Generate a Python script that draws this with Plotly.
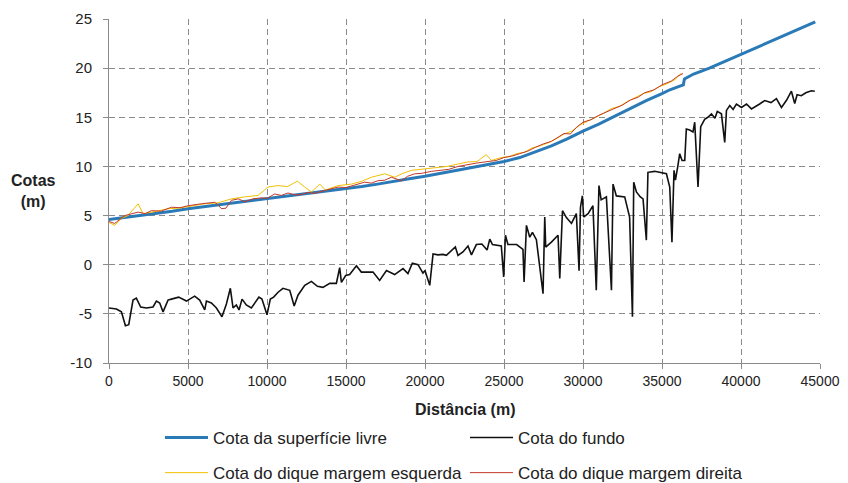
import plotly.graph_objects as go

# ---- Data ----
dist_livre = [0, 1000, 2000, 3000, 4000, 5000, 6000, 7000, 8000, 9000, 10000, 11000, 12000, 13000,
              14000, 15000, 16000, 17000, 18000, 19000, 20000, 21000, 22000, 23000, 24000, 25000,
              26000, 27000, 28000, 29000, 30000, 31000, 32000, 33000, 34000, 35000, 35500, 36000,
              36350, 36420, 37000, 38000, 39000, 40000, 41000, 42000, 43000, 44000, 44700]
cota_livre = [4.6, 4.8, 5.0, 5.2, 5.45, 5.7, 5.9, 6.1, 6.3, 6.5, 6.7, 6.9, 7.1, 7.3,
              7.5, 7.7, 7.95, 8.2, 8.5, 8.75, 9.0, 9.3, 9.6, 9.9, 10.2, 10.5,
              10.9, 11.5, 12.1, 12.8, 13.6, 14.3, 15.1, 15.9, 16.7, 17.4, 17.8, 18.1,
              18.3, 18.9, 19.4, 20.0, 20.7, 21.4, 22.1, 22.8, 23.5, 24.2, 24.7]

dist_fundo = [0, 470, 785, 1040, 1250, 1415, 1520, 1730, 2005, 2365, 2785, 3000, 3210, 3420, 3735,
              3950, 4410, 4900, 5420, 5740, 6060, 6165, 6480, 6800, 7150, 7430, 7680, 7850, 8060,
              8230, 8420, 8690, 9010, 9490, 9680, 10000, 10210, 10420, 10700, 11010, 11440, 11720,
              11960, 12390, 12810, 13190, 13540, 13970, 14390, 14600, 14710, 14980, 15230, 15660,
              15970, 16710, 17130, 17560, 18080, 18610, 18920, 19200, 19560, 19870, 20000, 20300,
              20510, 20820, 21140, 21350, 21670, 21920, 22090, 22400, 22720, 22940, 23250, 23600,
              23930, 24100, 24270, 24830, 24980, 25090, 25250, 25800, 26200, 26270, 26420, 26630,
              26800, 27050, 27470, 27580, 27640, 28000, 28420, 28530, 28700, 28950, 29270, 29580,
              29750, 29840, 29960, 30040, 30320, 30630, 30840, 31010, 31150, 31480, 31800, 31900,
              32110, 32640, 32950, 33130, 33210, 33380, 33630, 33800, 34010, 34110, 34540, 34900,
              35280, 35490, 35630, 35760, 35850, 36010, 36120, 36270, 36440, 36540, 36750, 36960,
              37070, 37280, 37450, 37700, 37900, 38130, 38350, 38500, 38760, 38970, 39080, 39290,
              39500, 39710, 40030, 40350, 40660, 41180, 41500, 41900, 42240, 42560, 42870, 43190,
              43400, 43550, 43820, 44100, 44460, 44670]
cota_fundo = [-4.4, -4.5, -4.8, -6.2, -6.1, -4.8, -3.6, -3.4, -4.3, -4.4, -4.3, -3.7, -3.9, -4.8, -3.6,
              -3.5, -3.3, -3.7, -3.2, -3.6, -4.6, -3.7, -3.9, -4.4, -5.3, -4.0, -2.4, -4.4, -4.1,
              -4.6, -3.5, -4.1, -4.4, -3.3, -3.5, -5.1, -3.5, -3.3, -2.8, -2.4, -2.6, -4.2,
              -3.1, -2.1, -1.7, -2.2, -2.3, -1.9, -1.9, -0.3, -1.8, -1.1, -1.0, -0.1,
              -0.75, -0.75, -1.6, -0.6, -1.0, -0.4, -0.9, 0.15, 0.0, -0.85, -0.6, -2.1,
              1.1, 1.0, 1.05, 0.95, 1.45, 1.8, 0.95, 1.3, 1.9, 1.0, 2.05, 2.1,
              1.5, 2.6, 2.05, 1.9, -1.25, 3.0, 2.05, 2.05, 1.55, -1.75, 4.0, 2.8,
              3.3, 2.55, -2.95, 4.85, 1.8, 2.3, 3.0, -1.4, 5.5, 4.8, 4.2, 5.2,
              -0.6, 5.85, 7.0, 4.85, 5.2, 6.0, -2.6, 8.05, 6.6, 6.9, -2.6, 8.2,
              7.0, 6.9, 4.85, -5.3, 8.4, 7.4, 6.9, 6.7, 2.5, 9.4, 9.5, 9.4,
              9.25, 7.9, 2.3, 9.6, 8.6, 10.1, 11.3, 10.6, 10.6, 13.8, 13.7, 13.5,
              14.5, 7.9, 14.05, 14.8, 15.0, 15.35, 14.9, 15.6, 15.35, 12.45, 15.7, 16.2,
              15.8, 16.35, 16.0, 16.35, 15.85, 16.35, 16.7, 16.5, 16.9, 16.0, 16.7, 17.65,
              16.4, 17.3, 17.2, 17.5, 17.7, 17.65]

dist_esq = [0, 360, 760, 1200, 1840, 2150, 2890, 3730, 4400, 5210, 6060, 6900, 7750, 8590, 9430,
            10060, 10700, 11300, 11920, 12390, 12810, 13340, 13700, 14500, 15340, 16000, 16610,
            17450, 18080, 18600, 19140, 19980, 20820, 21400, 22090, 22700, 23300, 23880, 24200,
            24800, 25300, 25800, 26300, 26800, 27300, 27800, 28300, 28800, 29300, 29800, 30300,
            30800, 31300, 31800, 32300, 32800, 33300, 33800, 34300, 34800, 35300, 35800, 36230]
cota_esq = [4.3, 4.0, 4.7, 5.0, 6.2, 5.2, 5.4, 5.7, 5.75, 6.0, 6.2, 6.3, 6.7, 6.9, 7.05,
            7.9, 8.05, 7.95, 8.5, 7.9, 7.4, 8.2, 7.6, 8.05, 8.2, 8.5, 8.9,
            9.25, 8.9, 9.3, 9.6, 9.75, 9.9, 10.0, 10.25, 10.45, 10.5, 11.2, 10.6,
            10.9, 11.0, 11.3, 11.45, 11.9, 12.1, 12.4, 12.8, 13.3, 13.6, 14.2, 14.6,
            15.0, 15.4, 15.9, 16.1, 16.6, 17.0, 17.4, 17.6, 18.1, 18.4, 18.8, 19.5]

dist_dir = [0, 360, 1000, 1840, 2300, 2680, 3300, 3950, 4500, 5000, 5850, 6690, 6900, 7110, 7400,
            7750, 8200, 8590, 9100, 9640, 10000, 10490, 10900, 11330, 11800, 12180, 12600, 13000,
            13650, 14100, 14500, 15000, 15600, 16180, 16600, 17030, 17450, 17870, 18510, 18900,
            19350, 19800, 20400, 20900, 21500, 22090, 22700, 23300, 23990, 24500, 25000, 25500,
            26000, 26500, 27000, 27500, 28000, 28500, 28800, 29200, 29600, 30000, 30500, 31000,
            31500, 32000, 32500, 33000, 33500, 33900, 34500, 35000, 35600, 36010, 36330]
cota_dir = [4.4, 4.2, 5.0, 5.35, 5.2, 5.5, 5.45, 5.85, 5.8, 6.0, 6.2, 6.35, 6.1, 5.7, 5.75,
            6.55, 6.7, 6.4, 6.7, 6.8, 6.75, 7.2, 7.05, 7.3, 7.1, 7.15, 7.35, 7.25,
            7.55, 7.7, 7.9, 7.85, 8.1, 8.4, 8.3, 8.55, 8.6, 8.9, 8.55, 9.0,
            9.25, 9.3, 9.5, 9.6, 9.7, 10.0, 10.2, 10.35, 10.5, 10.6, 10.9, 11.05,
            11.3, 11.55, 11.95, 12.3, 12.55, 13.0, 13.35, 13.3, 14.0, 14.5, 14.75, 15.2,
            15.55, 15.95, 16.25, 16.75, 17.05, 17.5, 17.8, 18.3, 18.7, 19.2, 19.45]

x_ticks = [0, 5000, 10000, 15000, 20000, 25000, 30000, 35000, 40000, 45000]
y_ticks = [-10, -5, 0, 5, 10, 15, 20, 25]

names = ["Cota da superfície livre", "Cota do fundo",
         "Cota do dique margem esquerda", "Cota do dique margem direita"]

FONT = "Liberation Sans, Arial, sans-serif"
GRID = "#8a8a8a"

fig = go.Figure()
fig.add_trace(go.Scatter(x=dist_livre, y=cota_livre, mode="lines", name=names[0],
                         line=dict(color="#2a7ab8", width=3), legend="legend"))
fig.add_trace(go.Scatter(x=dist_fundo, y=cota_fundo, mode="lines", name=names[1],
                         line=dict(color="#111111", width=1.6), legend="legend2"))
fig.add_trace(go.Scatter(x=dist_esq, y=cota_esq, mode="lines", name=names[2],
                         line=dict(color="#f2c000", width=1), legend="legend3"))
fig.add_trace(go.Scatter(x=dist_dir, y=cota_dir, mode="lines", name=names[3],
                         line=dict(color="#c0392b", width=1), legend="legend4"))

def leg(x, y):
    return dict(x=x, y=y, xanchor="left", yanchor="middle", orientation="h",
                font=dict(family=FONT, size=17, color="#222"), itemwidth=43,
                bgcolor="rgba(0,0,0,0)", borderwidth=0)

# The page body has an 8px default margin, so the figure is 8px smaller
# than the window and the left/top margins are reduced by 8px.
fig.update_layout(
    width=840, height=475,
    margin=dict(l=101, r=28, t=11, b=120, autoexpand=False),
    paper_bgcolor="white", plot_bgcolor="white",
    showlegend=True,
    legend=leg(0.0717, -0.218),
    legend2=leg(0.5007, -0.218),
    legend3=leg(0.0717, -0.320),
    legend4=leg(0.5007, -0.320),
    xaxis=dict(range=[0, 45000], tickvals=x_ticks, ticktext=[str(v) for v in x_ticks],
               showgrid=True, gridcolor=GRID, griddash="6px,4px", gridwidth=1,
               showline=True, linecolor=GRID, linewidth=1, ticks="outside", ticklen=5,
               tickcolor=GRID, zeroline=False,
               tickfont=dict(family=FONT, size=14, color="#222")),
    yaxis=dict(range=[-10, 25], tickvals=y_ticks, ticktext=[str(v) for v in y_ticks],
               showgrid=True, gridcolor=GRID, griddash="6px,4px", gridwidth=1,
               showline=True, linecolor=GRID, linewidth=1, ticks="outside", ticklen=5,
               tickcolor=GRID, zeroline=False, ticklabelstandoff=8,
               tickfont=dict(family=FONT, size=15, color="#222")),
    annotations=[
        dict(text="<b>Cotas<br>(m)</b>", xref="paper", yref="paper", x=-0.1055, y=0.5,
             xanchor="center", yanchor="middle", showarrow=False,
             font=dict(family=FONT, size=16, color="#222")),
        dict(text="<b>Distância (m)</b>", xref="paper", yref="paper", x=0.5, y=-0.1366,
             xanchor="center", yanchor="middle", showarrow=False,
             font=dict(family=FONT, size=16, color="#222")),
    ],
)

fig.write_html("out.html")
